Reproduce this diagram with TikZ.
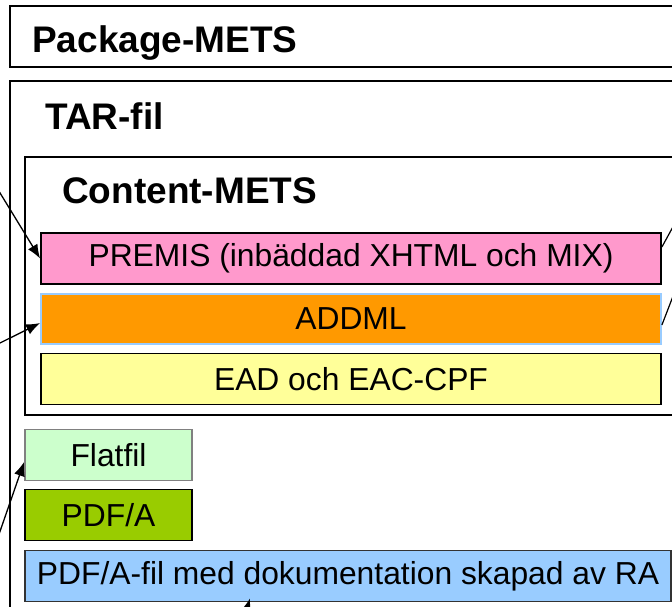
\documentclass[tikz,border=0pt]{standalone}
\usepackage{fontspec}
\setmainfont{Liberation Sans}
\usepackage{tikz}
\usetikzlibrary{arrows.meta}
\usetikzlibrary{positioning}
\definecolor{mpink}{RGB}{255,153,204}
\definecolor{morange}{RGB}{255,153,0}
\definecolor{myellow}{RGB}{255,255,153}
\definecolor{mmint}{RGB}{204,255,204}
\definecolor{molive}{RGB}{153,204,0}
\definecolor{mblue}{RGB}{153,204,255}
\definecolor{mgray}{RGB}{128,128,128}

\begin{document}
\begin{tikzpicture}[x=1pt, y=-1pt,
    frame/.style={draw=black, line width=1.2pt},
    title/.style={anchor=base west, inner sep=0, font=\fontsize{37}{42}\selectfont\bfseries},
    field/.style={draw=black, line width=1.8pt, minimum height=51pt, inner sep=0,
      font=\fontsize{31.8}{36}\selectfont},
    link/.style={-{Latex[length=14pt,width=11pt]}, line width=1.3pt},
    lead/.style={line width=1.2pt}]
      \clip (0, 0) rectangle (672, 606);

      % outer containers
      \draw [frame] (10, 6) rectangle (700, 67);
      \node [title] (pkg) at (32, 52) {Package-METS};
      \draw [frame] (10, 81) rectangle (700, 640);
      \node [title] (tar) at (45, 129) {TAR-fil};
      \draw [frame] (25, 157) rectangle (700, 415);
      \node [title] (content) at (62, 203) {Content-METS};

      % content boxes
      \node [field, fill=mpink, minimum width=620pt] (premis) at (351, 258.5) {PREMIS (inbäddad XHTML och MIX)};
      \node [field, fill=morange, draw=mblue, minimum width=620pt, minimum height=50pt] (addml) at (351, 319) {ADDML};
      \node [field, fill=myellow, minimum width=620pt] (ead) at (351, 379) {EAD och EAC-CPF};

      \node [field, fill=mmint, draw=mgray, minimum width=167pt] (flatfil) at (108.5, 455) {Flatfil};
      \node [field, fill=molive, minimum width=167pt] (pdfa) at (108.5, 515) {PDF/A};
      \node [field, fill=mblue, draw=black!80, minimum width=646pt] (pdfafil) at (348, 576) {PDF/A-fil med dokumentation skapad av RA};

      % connectors from outside
      \coordinate (l1) at (-3, 188);
      \coordinate (l2) at (-5, 345.5);
      \coordinate (l3) at (-3, 540);
      \coordinate (b1) at (243, 622);
      \coordinate (r1) at (680, 214);
      \coordinate (r2) at (680, 278);

      \draw [link] (l1) -- (premis.west);
      \draw [link] (l2) -- ([yshift=-4pt]addml.west);
      \draw [link] (l3) -- ([yshift=-7pt]flatfil.west);
      \draw [link] (b1) -- ([xshift=-98pt, yshift=4pt]pdfafil.south);
      \draw [lead] ([yshift=11.5pt]premis.east) -- (r1);
      \draw [lead] ([yshift=-6pt]addml.east) -- (r2);
    \end{tikzpicture}
\end{document}
